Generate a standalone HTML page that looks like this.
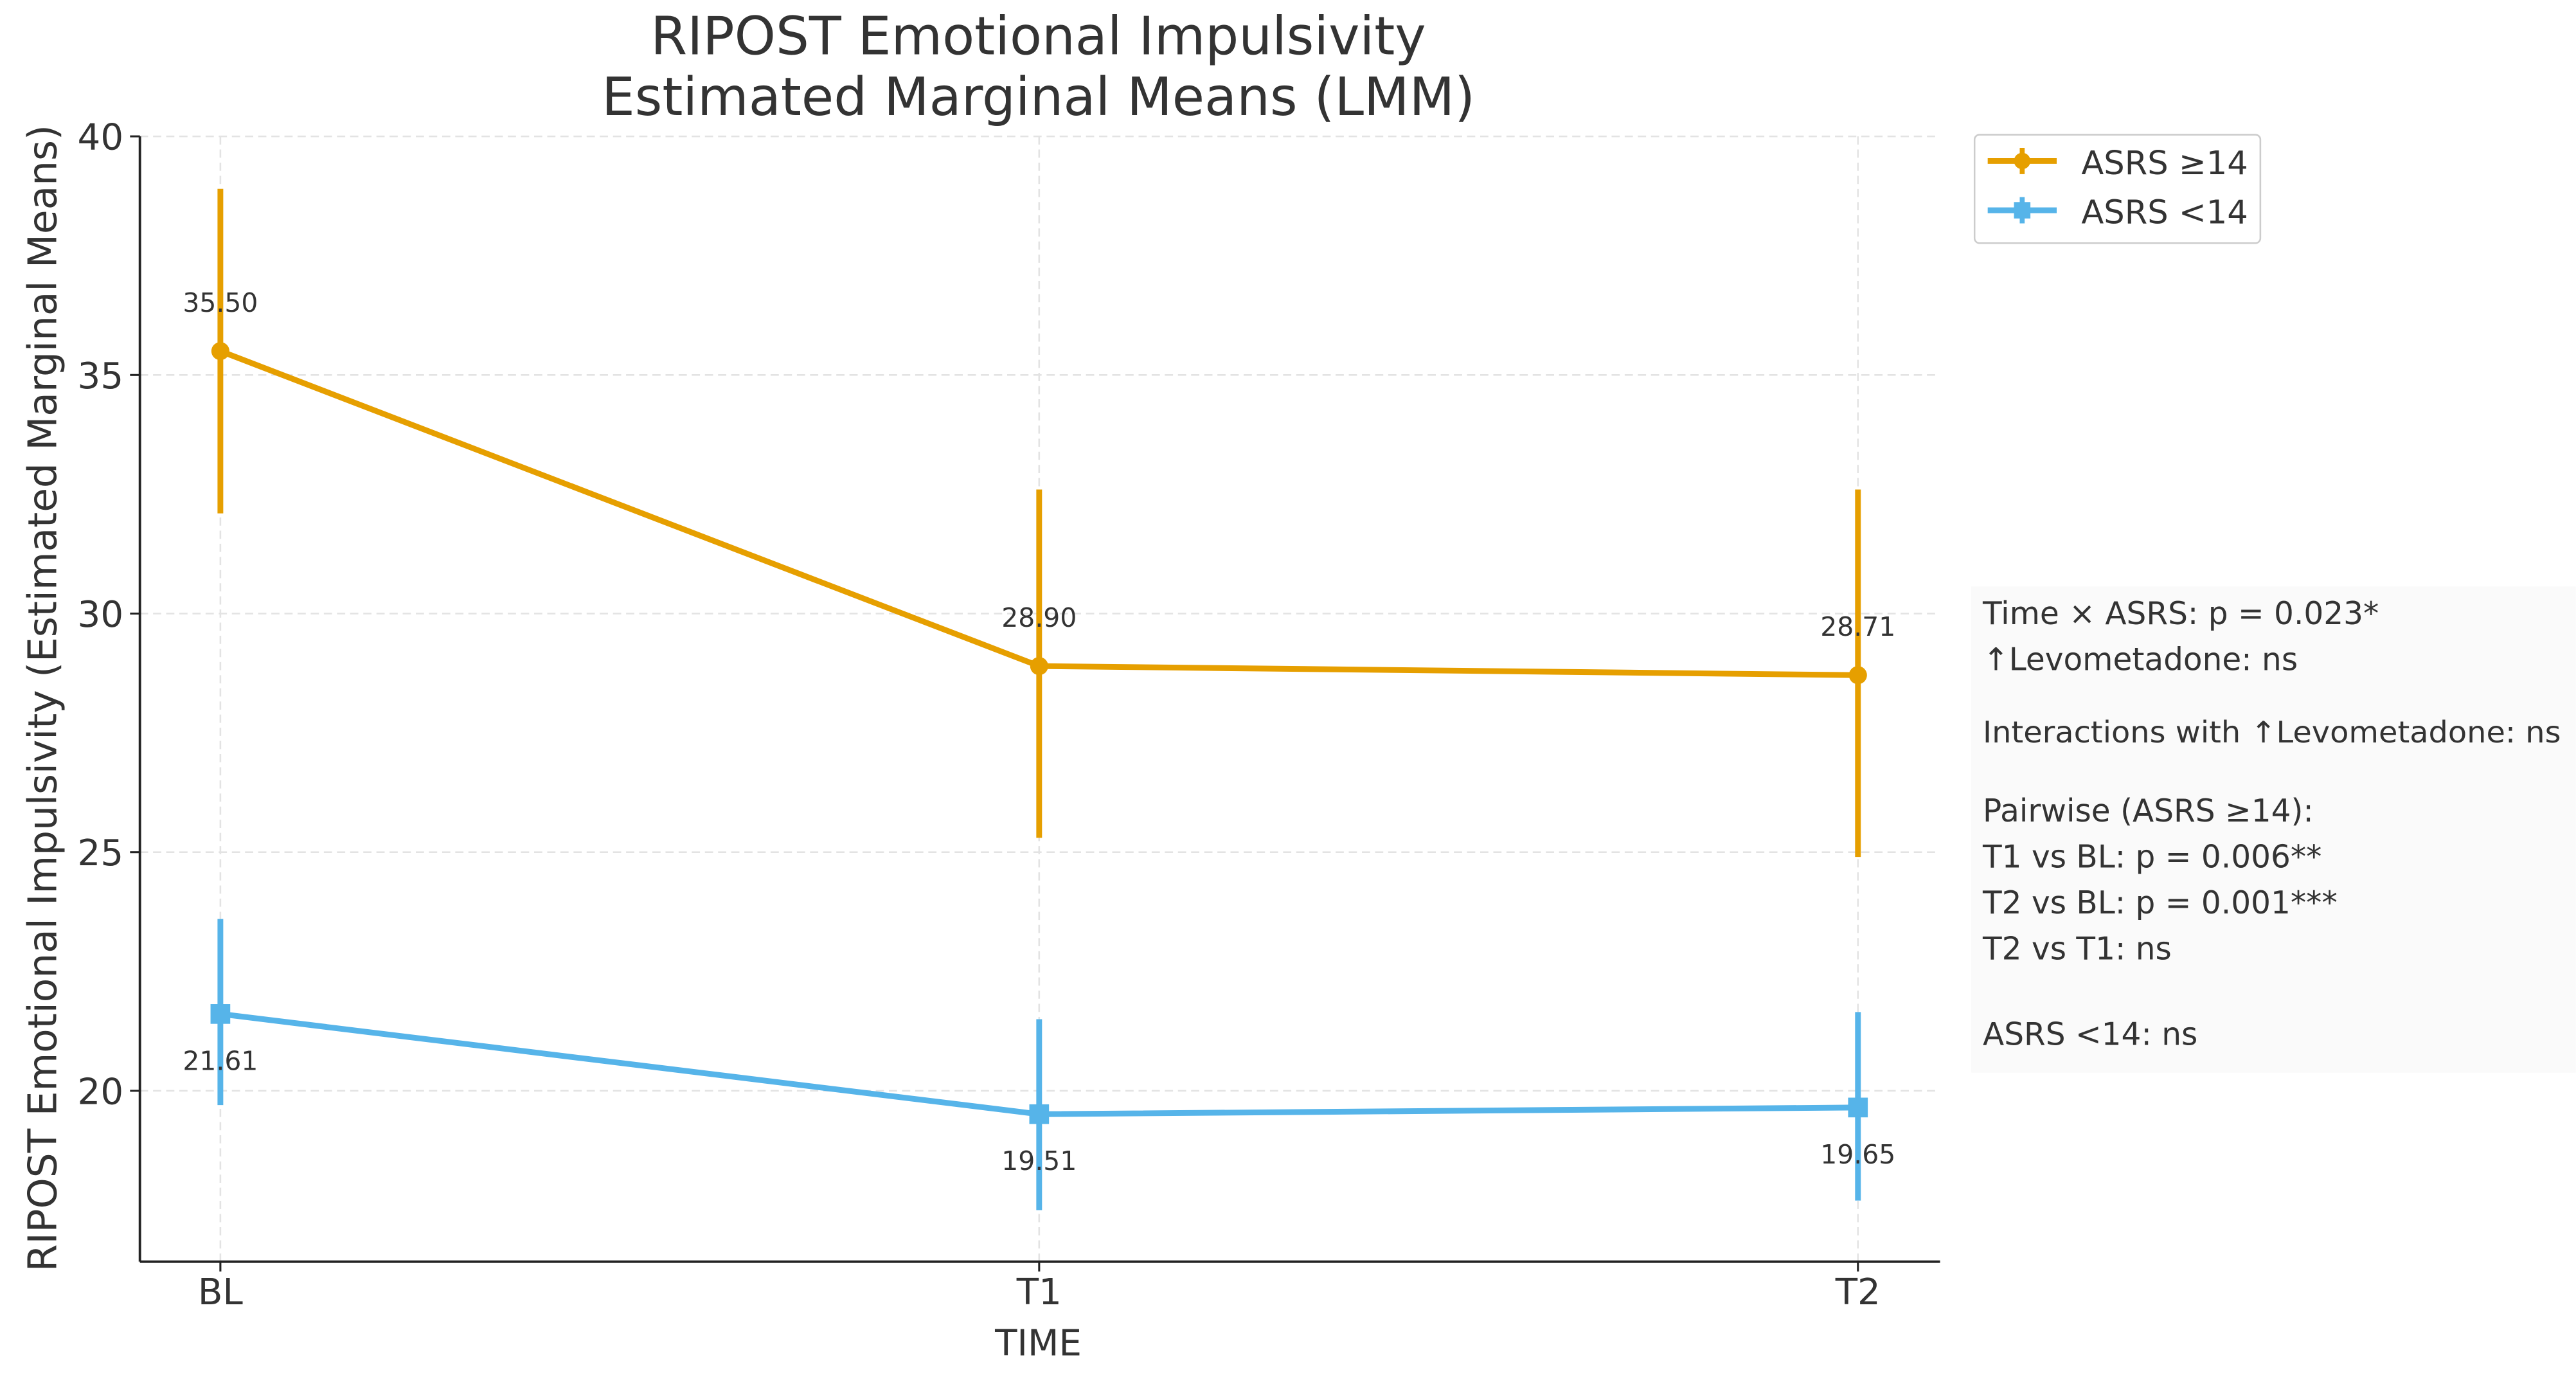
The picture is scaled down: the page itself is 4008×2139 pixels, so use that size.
<!DOCTYPE html>
<html><head><meta charset="utf-8"><style>
html,body{margin:0;padding:0;background:#fff}
svg{display:block}
text{font-family:"DejaVu Sans","Liberation Sans",sans-serif;fill:#333}
</style></head><body>
<svg id="chart" width="4008" height="2139" viewBox="0 0 1568 837" xmlns="http://www.w3.org/2000/svg">
<g>
<text x="632" y="33" text-anchor="middle" font-size="32">RIPOST Emotional Impulsivity</text>
<text x="632" y="70" text-anchor="middle" font-size="32">Estimated Marginal Means (LMM)</text>
</g>
<g id="grid"></g>
<g id="marks"></g>
<g id="axes"></g>
<text transform="translate(34,425) rotate(-90)" text-anchor="middle" font-size="24">RIPOST Emotional Impulsivity (Estimated Marginal Means)</text>
<text x="632" y="825" text-anchor="middle" font-size="22">TIME</text>
<g>
<rect x="1202" y="82" width="174" height="66" rx="3" fill="#fff" stroke="#ccc" stroke-width="1"/>
<g>
<line x1="1210" y1="98" x2="1252" y2="98" stroke="#E69F00" stroke-width="3.5"/>
<line x1="1231" y1="90" x2="1231" y2="106" stroke="#E69F00" stroke-width="3"/>
<circle cx="1231" cy="98" r="5" fill="#E69F00"/>
<text x="1267" y="106" font-size="20">ASRS ≥14</text></g>
<g>
<line x1="1210" y1="128" x2="1252" y2="128" stroke="#56B4E9" stroke-width="3.5"/>
<line x1="1231" y1="120" x2="1231" y2="136" stroke="#56B4E9" stroke-width="3"/>
<rect x="1226" y="123" width="10" height="10" fill="#56B4E9"/>
<text x="1267" y="136" font-size="20">ASRS &lt;14</text></g>
</g>
<g>
<rect x="1200" y="357" width="368" height="296" fill="#fafafa"/>
<text x="1207" y="380" font-size="19">Time × ASRS: p = 0.023*</text>
<text x="1207" y="408" font-size="19">↑Levometadone: ns</text>
<text x="1207" y="452" font-size="18" textLength="352" lengthAdjust="spacingAndGlyphs">Interactions with ↑Levometadone: ns</text>
<text x="1207" y="500" font-size="19">Pairwise (ASRS ≥14):</text>
<text x="1207" y="528" font-size="19">T1 vs BL: p = 0.006**</text>
<text x="1207" y="556" font-size="19">T2 vs BL: p = 0.001***</text>
<text x="1207" y="584" font-size="19">T2 vs T1: ns</text>
<text x="1207" y="636" font-size="19">ASRS &lt;14: ns</text>
</g>
</svg>
<script>
const categories = ["BL","T1","T2"];
const highMeans = [35.50, 28.90, 28.71];
const highLower = [32.1, 25.3, 24.9];
const highUpper = [38.9, 32.6, 32.6];
const lowMeans = [21.61, 19.51, 19.65];
const lowLower = [19.7, 17.5, 17.7];
const lowUpper = [23.6, 21.5, 21.65];
const yTicks = [20, 25, 30, 35, 40];

const NS = "http://www.w3.org/2000/svg";
const L = 85, R = 1181, T = 83, B = 768;
const xPos = [134, 632, 1131];
function xs(i){ return xPos[0] + (xPos[2]-xPos[0]) * i / (categories.length-1); }
function ys(v){ return 664 - (v - 20) * (664 - 83) / 20; }
function mk(tag, attrs, parent){ const e = document.createElementNS(NS, tag); for (const k in attrs) e.setAttribute(k, attrs[k]); parent.appendChild(e); return e; }

const grid = document.getElementById('grid'), axes = document.getElementById('axes'), marks = document.getElementById('marks');
yTicks.forEach(v => {
  const g = mk('line', {x1:L, x2:R, y1:ys(v), y2:ys(v), stroke:'#e3e3e3', 'stroke-dasharray':'5,3', 'stroke-width':1}, grid);
  
  
  mk('line', {x1:L-6, x2:L, y1:ys(v), y2:ys(v), stroke:'#222', 'stroke-width':1.2}, axes);
  const t = mk('text', {x:L-10, y:ys(v)+8, 'text-anchor':'end', 'font-size':22}, axes);
  t.textContent = v;
  
  
});
categories.forEach((c, i) => {
  const g = mk('line', {x1:xs(i), x2:xs(i), y1:T, y2:B, stroke:'#e3e3e3', 'stroke-dasharray':'5,3', 'stroke-width':1}, grid);
  
  
  mk('line', {x1:xs(i), x2:xs(i), y1:B, y2:B+6, stroke:'#222', 'stroke-width':1.2}, axes);
  const t = mk('text', {x:xs(i), y:B+26, 'text-anchor':'middle', 'font-size':22}, axes);
  t.textContent = c;
  
  
});
mk('line', {x1:L, x2:L, y1:T, y2:B, stroke:'#222', 'stroke-width':1.5}, axes);
mk('line', {x1:L, x2:R, y1:B, y2:B, stroke:'#222', 'stroke-width':1.5}, axes);

function series(means, lo, hi, color, name, square, above){
  const pts = means.map((v,i) => xs(i) + ',' + ys(v)).join(' ');
  const pl = mk('polyline', {points:pts, fill:'none', stroke:color, 'stroke-width':3.5}, marks);
  
  
  means.forEach((v, i) => {
    const eb = mk('line', {x1:xs(i), x2:xs(i), y1:ys(lo[i]), y2:ys(hi[i]), stroke:color, 'stroke-width':3.5}, marks);
    
    
    let m;
    if (square) m = mk('rect', {x:xs(i)-6, y:ys(v)-6, width:12, height:12, fill:color}, marks);
    else m = mk('circle', {cx:xs(i), cy:ys(v), r:5.5, fill:color}, marks);
    
    
    const t = mk('text', {x:xs(i), y:above ? ys(v)-24 : ys(v)+34, 'text-anchor':'middle', 'font-size':16}, marks);
    t.textContent = v.toFixed(2);
    
    
  });
}
series(highMeans, highLower, highUpper, '#E69F00', 'asrs-high', false, true);
series(lowMeans, lowLower, lowUpper, '#56B4E9', 'asrs-low', true, false);
</script>
</body></html>
